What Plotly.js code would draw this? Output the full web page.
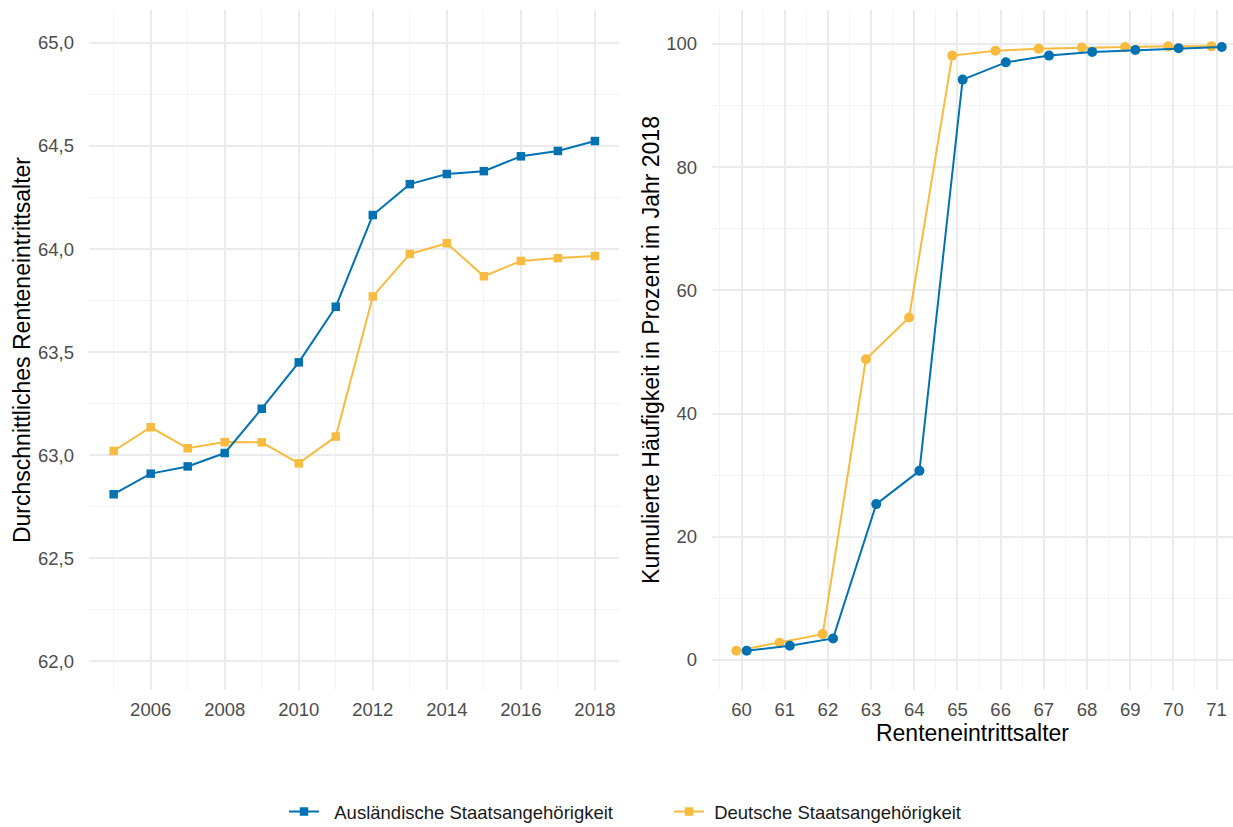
<!DOCTYPE html>
<html>
<head>
<meta charset="utf-8">
<script src="https://cdn.plot.ly/plotly-3.0.1.min.js"></script>
<style>html,body{margin:0;padding:0;background:#fff;}#chart{width:1233px;height:827px;}</style>
</head>
<body>
<div id="chart"></div>
<script>
// Left panel: average retirement age by year
const years = [2005,2006,2007,2008,2009,2010,2011,2012,2013,2014,2015,2016,2017,2018];
const ageForeign = [62.81,62.91,62.945,63.01,63.225,63.45,63.72,64.165,64.315,64.364,64.378,64.45,64.476,64.524];
const ageGerman  = [63.02,63.135,63.033,63.063,63.062,62.96,63.09,63.77,63.976,64.028,63.868,63.942,63.956,63.966];

// Right panel: cumulative share (%) by retirement age, 2018
const ages = [60,61,62,63,64,65,66,67,68,69,70,71];
const cumForeign = [1.5,2.3,3.5,25.3,30.7,94.2,97.0,98.1,98.7,99.0,99.3,99.5];
const cumGerman  = [1.5,2.8,4.2,48.8,55.6,98.1,98.9,99.2,99.4,99.5,99.6,99.6];

const nameForeign = 'Ausländische Staatsangehörigkeit';
const nameGerman = 'Deutsche Staatsangehörigkeit';
const cBlue = '#0072B2';
const cYellow = '#F6BB3F';
const dodge = 0.12;
const pad = '\u00A0';

const tGermanL = {x: years, y: ageGerman, name: pad + nameGerman, mode: 'lines+markers', xaxis: 'x', yaxis: 'y',
   line: {color: cYellow, width: 2}, marker: {symbol: 'square', size: 8.5, color: cYellow}, legendgroup: 'b', legendrank: 2};
const tForeignL = {x: years, y: ageForeign, name: pad + pad + nameForeign, mode: 'lines+markers', xaxis: 'x', yaxis: 'y',
   line: {color: cBlue, width: 2}, marker: {symbol: 'square', size: 8.5, color: cBlue}, legendgroup: 'a', legendrank: 1};
const tGermanR = {x: ages.map(a => a - dodge), y: cumGerman, name: nameGerman, mode: 'lines+markers', xaxis: 'x2', yaxis: 'y2',
   line: {color: cYellow, width: 2}, marker: {symbol: 'circle', size: 10, color: cYellow}, legendgroup: 'b', showlegend: false};
const tForeignR = {x: ages.map(a => a + dodge), y: cumForeign, name: nameForeign, mode: 'lines+markers', xaxis: 'x2', yaxis: 'y2',
   line: {color: cBlue, width: 2}, marker: {symbol: 'circle', size: 10, color: cBlue}, legendgroup: 'a', showlegend: false};

const W = 1233;
const gridMajor = '#EBEBEB', gridMinor = '#F3F3F3';
const FAM = 'Liberation Sans, Arial, sans-serif';
const tickFont = {family: FAM, size: 18.5, color: '#4D4D4D'};
const titleFont = {family: FAM, size: 23, color: '#000000'};

const layout = {
  width: 1233, height: 827,
  margin: {l: 0, r: 0, t: 10, b: 137, autoexpand: false},
  paper_bgcolor: '#FFFFFF', plot_bgcolor: '#FFFFFF',
  separators: ',.',
  showlegend: true,
  legend: {orientation: 'h', x: 284/W, xanchor: 'left', y: -0.1794, yanchor: 'middle',
           font: {family: FAM, size: 18.5, color: '#1A1A1A'},
           itemwidth: 30, entrywidth: 340, tracegroupgap: 0},
  xaxis: {domain: [89/W, 619/W], range: [2004.334, 2018.65], tickmode: 'linear', tick0: 2006, dtick: 2,
          showgrid: true, gridcolor: gridMajor, gridwidth: 2, zeroline: false, showline: false, ticks: '',
          ticklabelstandoff: 6,
          tickfont: tickFont, minor: {tickmode: 'linear', tick0: 2005, dtick: 1, showgrid: true, gridcolor: gridMinor, gridwidth: 1}},
  yaxis: {domain: [0, 1], range: [61.86, 65.16], tickmode: 'linear', tick0: 62, dtick: 0.5, tickformat: '.1f',
          showgrid: true, gridcolor: gridMajor, gridwidth: 2, zeroline: false, showline: false, ticks: '',
          ticklabelstandoff: 14,
          tickfont: tickFont, title: {text: 'Durchschnittliches Renteneintrittsalter', font: titleFont, standoff: 0},
          minor: {tickmode: 'linear', tick0: 62.25, dtick: 0.5, showgrid: true, gridcolor: gridMinor, gridwidth: 1}},
  xaxis2: {domain: [712/W, 1], range: [59.317, 71.38], tickmode: 'linear', tick0: 60, dtick: 1, anchor: 'y2',
          showgrid: true, gridcolor: gridMajor, gridwidth: 2, zeroline: false, showline: false, ticks: '',
          ticklabelstandoff: 6,
          tickfont: tickFont, title: {text: 'Renteneintrittsalter', font: titleFont, standoff: 6},
          minor: {tickmode: 'linear', tick0: 59.5, dtick: 1, showgrid: true, gridcolor: gridMinor, gridwidth: 1}},
  yaxis2: {domain: [0, 1], range: [-4.87, 105.5], tickmode: 'linear', tick0: 0, dtick: 20, anchor: 'x2',
          showgrid: true, gridcolor: gridMajor, gridwidth: 2, zeroline: false, showline: false, ticks: '',
          ticklabelstandoff: 14,
          tickfont: tickFont, title: {text: 'Kumulierte Häufigkeit in Prozent im Jahr 2018', font: titleFont, standoff: 0},
          minor: {tickmode: 'linear', tick0: 10, dtick: 20, showgrid: true, gridcolor: gridMinor, gridwidth: 1}}
};

Plotly.newPlot('chart', [tGermanL, tForeignL, tGermanR, tForeignR], layout, {displayModeBar: false, staticPlot: true});
</script>
</body>
</html>
